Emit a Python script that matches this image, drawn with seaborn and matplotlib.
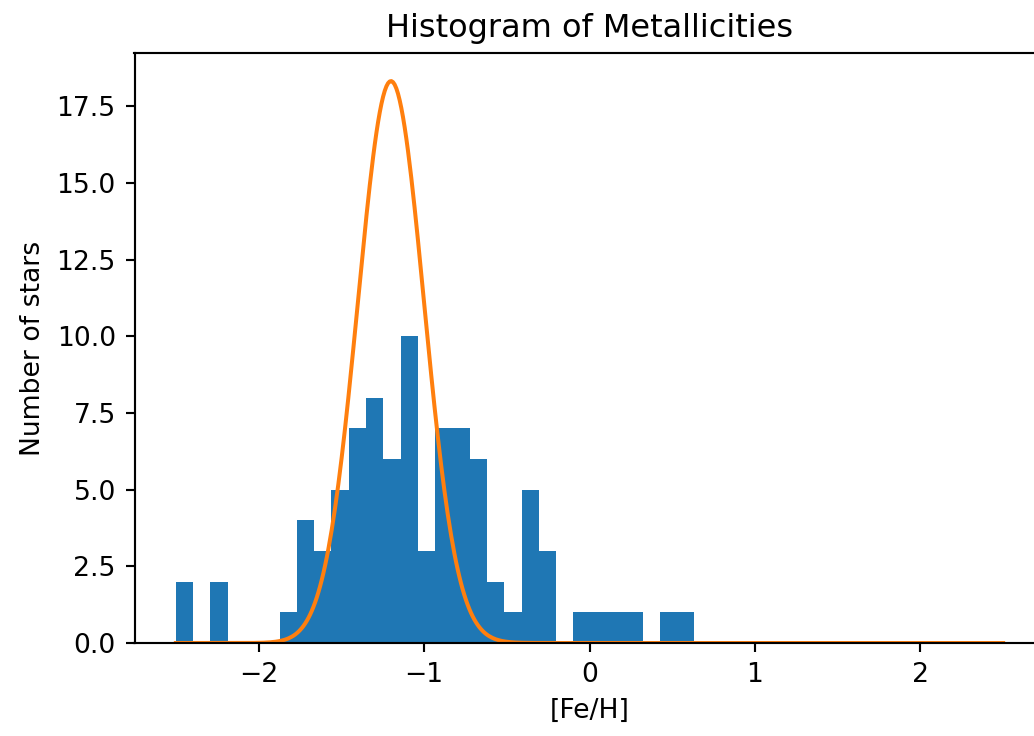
import numpy as np
import pandas as pd
import matplotlib
matplotlib.use("Agg")
import matplotlib.pyplot as plt
import seaborn as sns

# Histogram of [Fe/H]: 30 equal bins from min to max
feh_min = -2.50
feh_max = 0.634
n_bins = 30
counts = [2, 0, 2, 0, 0, 0, 1, 4, 3, 5,
          7, 8, 6, 10, 3, 7, 7, 6, 2, 1,
          5, 3, 0, 1, 1, 1, 1, 0, 1, 1]

# Gaussian overlay (orange curve)
gauss_mean = -1.20
gauss_sigma = 0.20
gauss_peak = 18.33
curve_min, curve_max = -2.5, 2.5

edges = np.linspace(feh_min, feh_max, n_bins + 1)
centers = (edges[:-1] + edges[1:]) / 2
hist_df = pd.DataFrame({"feh": centers, "count": counts})

xs = np.linspace(curve_min, curve_max, 500)
ys = gauss_peak * np.exp(-0.5 * ((xs - gauss_mean) / gauss_sigma) ** 2)

# figure: 1034x736 px, right edge of the axes runs off the canvas like the reference
dpi = 192
fig = plt.figure(figsize=(1034 / dpi, 736 / dpi), dpi=dpi)
ax = fig.add_axes([134.5 / 1034, (736 - 643) / 736, 910 / 1034, (643 - 53) / 736])

sns.histplot(data=hist_df, x="feh", weights="count", bins=list(edges),
             color="#1f77b4", alpha=1, linewidth=0, ax=ax)
sns.lineplot(x=xs, y=ys, color="#ff7f0e", linewidth=1.5, sort=False,
             errorbar=None, ax=ax)

ax.set_title("Histogram of Metallicities", fontsize=12)
ax.set_xlabel("[Fe/H]", fontsize=10)
ax.set_ylabel("Number of stars", fontsize=10)
ax.tick_params(labelsize=10)

fig.savefig("out.png", dpi=dpi)
